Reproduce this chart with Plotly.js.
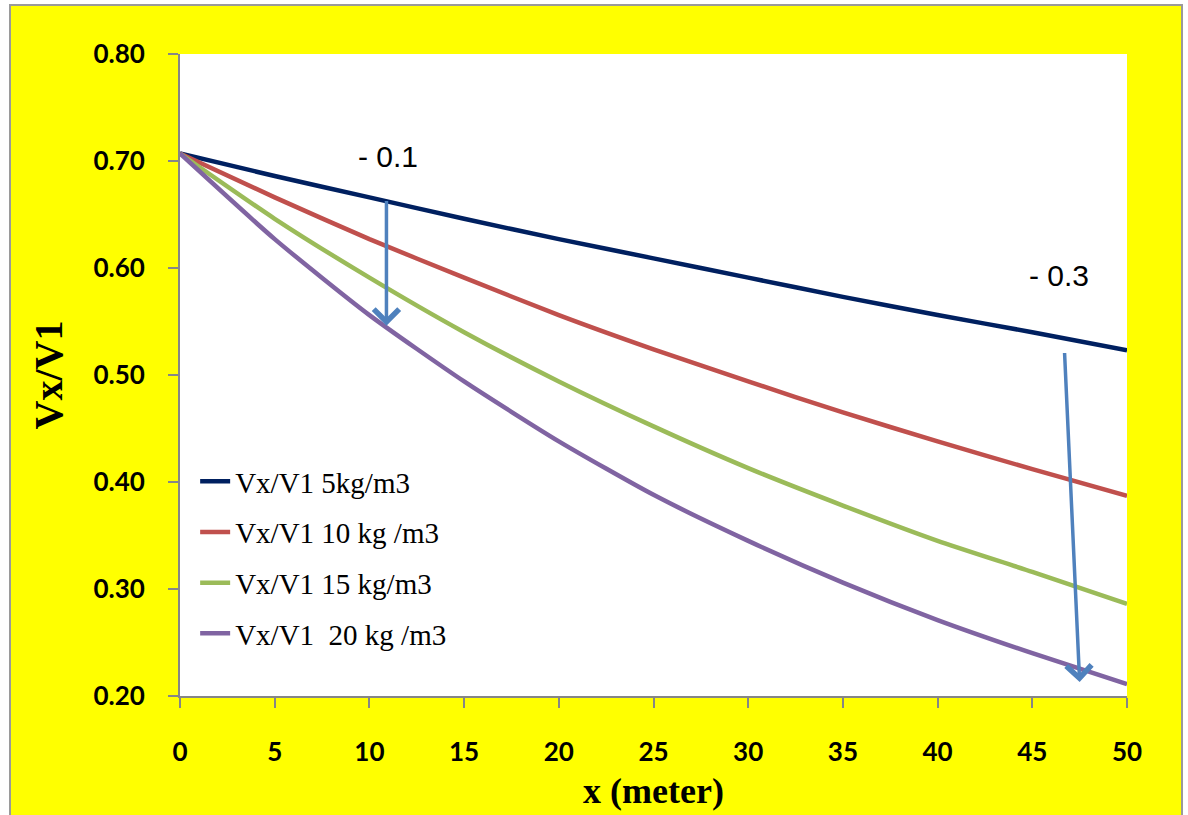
<!DOCTYPE html>
<html>
<head>
<meta charset="utf-8">
<script src="https://cdn.plot.ly/plotly-3.0.1.min.js"></script>
<style>
html, body { margin: 0; padding: 0; background: #ffffff; width: 1188px; height: 815px; overflow: hidden; }
#frame { position: absolute; left: 9px; top: 4px; border: 2px solid #9a9a9a; width: 1170px; height: 830px; }
#chart { width: 1170px; height: 830px; }
</style>
</head>
<body>
<div id="frame"><div id="chart"></div></div>
<script>
// x positions (meter)
const xMeters = [0, 5, 10, 15, 20, 25, 30, 35, 40, 45, 50];

// Vx/V1 values
const v5kg  = [0.707, 0.686, 0.666, 0.646, 0.627, 0.609, 0.591, 0.573, 0.556, 0.540, 0.523];
const v10kg = [0.707, 0.666, 0.627, 0.591, 0.556, 0.524, 0.494, 0.465, 0.438, 0.412, 0.387];
const v15kg = [0.707, 0.646, 0.591, 0.540, 0.494, 0.452, 0.413, 0.378, 0.345, 0.316, 0.286];
const v20kg = [0.707, 0.627, 0.556, 0.494, 0.438, 0.388, 0.345, 0.306, 0.271, 0.240, 0.211];

const seriesNames = ["Vx/V1 5kg/m3", "Vx/V1 10 kg /m3", "Vx/V1 15 kg/m3", "Vx/V1  20 kg /m3"];
const seriesColors = ["#002060", "#C0504D", "#9BBB59", "#8064A2"];
const seriesValues = [v5kg, v10kg, v15kg, v20kg];

const yTickVals = [0.2, 0.3, 0.4, 0.5, 0.6, 0.7, 0.8];
const xTickVals = [0, 5, 10, 15, 20, 25, 30, 35, 40, 45, 50];

// Arrow annotations: [tailX, tailY, headX, headY]
const arrow1 = [10.9, 0.664, 10.9, 0.546];
const arrow2 = [46.7, 0.522, 47.5, 0.213];
const label1 = {text: "- 0.1", x: 11.0, y: 0.704};
const label2 = {text: "- 0.3", x: 46.4, y: 0.593};

const traces = seriesValues.map((vals, i) => ({
  x: xMeters,
  y: vals,
  type: "scatter",
  mode: "lines",
  name: seriesNames[i],
  legendgroup: "g" + i,
  line: {color: seriesColors[i], width: 4.5, shape: "spline", smoothing: 0.6}
}));

const axisCommon = {
  showgrid: false,
  zeroline: false,
  showline: true,
  linecolor: "#868686",
  linewidth: 2,
  ticks: "outside",
  ticklen: 10,
  tickwidth: 2,
  tickcolor: "#868686",
  tickfont: {family: "Lato, 'Open Sans', sans-serif", size: 26, color: "#000000", weight: "bold"}
};

const layout = {
  width: 1170,
  height: 830,
  paper_bgcolor: "#FFFF00",
  plot_bgcolor: "#FFFFFF",
  margin: {l: 169, r: 54, t: 48, b: 140},
  showlegend: true,
  legend: {
    x: 0.016, y: 0.374, xanchor: "left", yanchor: "top",
    bgcolor: "rgba(0,0,0,0)",
    font: {family: "'Liberation Serif', 'Times New Roman', serif", size: 29, color: "#000000"},
    tracegroupgap: 10,
    itemwidth: 30
  },
  xaxis: Object.assign({}, axisCommon, {
    range: [0, 50],
    tickvals: xTickVals,
    ticklabelstandoff: 22,
    title: {text: "x (meter)", font: {family: "'Liberation Serif', 'Times New Roman', serif", size: 36, color: "#000000", weight: "bold"}, standoff: 12}
  }),
  yaxis: Object.assign({}, axisCommon, {
    range: [0.2, 0.8],
    tickvals: yTickVals,
    tickformat: ".2f",
    ticklabelstandoff: 18,
    title: {text: "Vx/V1", font: {family: "'Liberation Serif', 'Times New Roman', serif", size: 40, color: "#000000", weight: "bold"}, standoff: 18}
  }),
  annotations: [
    {x: arrow1[2], y: arrow1[3], ax: arrow1[0], ay: arrow1[1], xref: "x", yref: "y", axref: "x", ayref: "y",
     text: "", showarrow: true, arrowhead: 4, arrowsize: 1.4, arrowwidth: 3.5, arrowcolor: "#4F81BD"},
    {x: arrow2[2], y: arrow2[3], ax: arrow2[0], ay: arrow2[1], xref: "x", yref: "y", axref: "x", ayref: "y",
     text: "", showarrow: true, arrowhead: 4, arrowsize: 1.4, arrowwidth: 3.5, arrowcolor: "#4F81BD"},
    {x: label1.x, y: label1.y, xref: "x", yref: "y", text: label1.text, showarrow: false,
     font: {family: "'Liberation Sans', Arial, sans-serif", size: 30, color: "#000000"}},
    {x: label2.x, y: label2.y, xref: "x", yref: "y", text: label2.text, showarrow: false,
     font: {family: "'Liberation Sans', Arial, sans-serif", size: 30, color: "#000000"}}
  ]
};

Plotly.newPlot("chart", traces, layout, {displayModeBar: false, staticPlot: true});
</script>
</body>
</html>
